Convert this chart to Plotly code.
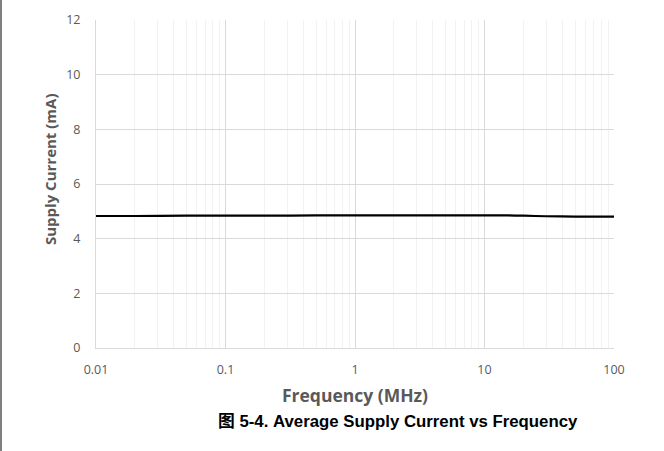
import plotly.graph_objects as go

# Data
freq_mhz = [0.01, 0.02, 0.05, 0.1, 0.2, 0.5, 1, 2, 5, 10, 15, 20, 30, 50, 100]
supply_ma = [4.83, 4.83, 4.84, 4.84, 4.84, 4.85, 4.85, 4.85, 4.85, 4.85, 4.85, 4.84, 4.82, 4.81, 4.81]

x_major = [0.01, 0.1, 1, 10, 100]
x_major_labels = ["0.01", "0.1", "1", "10", "100"]
x_minor = [m * 10 ** e for e in range(-2, 2) for m in range(2, 10)]
y_ticks = [0, 2, 4, 6, 8, 10, 12]

x_title = "Frequency (MHz)"
y_title = "Supply Current (mA)"
caption = "图 5-4. Average Supply Current vs Frequency"

W, H = 664, 451
L, R, T, B = 96, 50, 20, 103
pw, ph = W - L - R, H - T - B


def px_x(px):
    return (px - L) / pw


def px_y(py):
    return (T + ph - py) / ph


fig = go.Figure()
fig.add_trace(go.Scatter(
    x=freq_mhz, y=supply_ma, mode="lines",
    line=dict(color="#000000", width=2.2, shape="spline", smoothing=0.6),
    showlegend=False, hoverinfo="skip",
))

axis_font = dict(family="Open Sans, Noto Sans, sans-serif", size=12.5, color="#595959")
xtitle_font = dict(family="Open Sans, Noto Sans, sans-serif", size=17.5, color="#595959")
ytitle_font = dict(family="Open Sans, Noto Sans, sans-serif", size=15, color="#595959")

fig.update_layout(
    width=W, height=H,
    margin=dict(l=L, r=R, t=T, b=B),
    paper_bgcolor="white", plot_bgcolor="white",
    xaxis=dict(
        type="log", range=[-2, 2],
        tickmode="array", tickvals=x_major, ticktext=x_major_labels,
        showgrid=True, gridcolor="#d9d9d9", gridwidth=1,
        minor=dict(tickmode="array", tickvals=x_minor, showgrid=True,
                   gridcolor="#f2f2f2", gridwidth=1),
        showline=True, linecolor="#d9d9d9", linewidth=1,
        ticks="", tickfont=axis_font, ticklabelstandoff=10,
        zeroline=False,
        title=dict(text="<b>" + x_title + "</b>", font=xtitle_font, standoff=12),
    ),
    yaxis=dict(
        range=[0, 12], tickmode="array", tickvals=y_ticks,
        showgrid=True, gridcolor="#d9d9d9", gridwidth=1,
        showline=True, linecolor="#d9d9d9", linewidth=1,
        ticks="", tickfont=axis_font, ticklabelstandoff=12,
        zeroline=False,
    ),
)

# y axis title
fig.add_annotation(
    x=px_x(50), y=px_y(169), xref="paper", yref="paper",
    text="<b>" + y_title + "</b>", showarrow=False, textangle=-90,
    font=ytitle_font, xanchor="center", yanchor="middle",
)

# caption
fig.add_annotation(
    x=px_x(398), y=px_y(421), xref="paper", yref="paper",
    text="<b>" + caption + "</b>", showarrow=False,
    font=dict(family="Liberation Sans, Arial, Noto Sans CJK SC, sans-serif", size=16.8, color="#000000"),
    xanchor="center", yanchor="middle",
)

# left border line of the page
fig.add_shape(
    type="line", xref="paper", yref="paper",
    x0=px_x(1), x1=px_x(1), y0=px_y(H), y1=px_y(0),
    line=dict(color="#7f7f7f", width=2),
)

fig.write_html(
    "out.html",
    config={"displayModeBar": False},
    post_script="document.body.style.margin='0';document.body.style.padding='0';document.body.style.overflow='hidden';",
)
